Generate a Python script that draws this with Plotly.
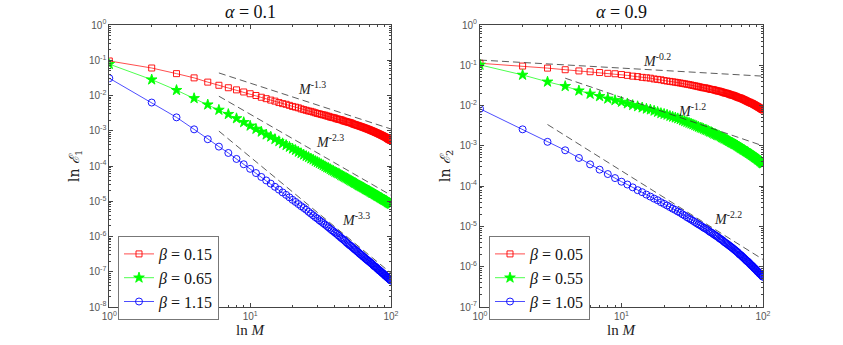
import numpy as np
import plotly.graph_objects as go

# M = 1..100
M = list(range(1, 101))

# log10 of the errors (alpha = 0.1)
a01_b015 = [-1.02, -1.22, -1.38, -1.50, -1.62, -1.71, -1.78, -1.84, -1.90, -1.95,
            -2.00, -2.05, -2.09, -2.13, -2.16, -2.20, -2.23, -2.25, -2.28, -2.31,
            -2.33, -2.35, -2.38, -2.40, -2.42, -2.44, -2.45, -2.47, -2.49, -2.51,
            -2.52, -2.54, -2.55, -2.56, -2.58, -2.59, -2.61, -2.62, -2.63, -2.64,
            -2.66, -2.67, -2.68, -2.69, -2.70, -2.72, -2.73, -2.74, -2.75, -2.76,
            -2.77, -2.78, -2.79, -2.81, -2.82, -2.83, -2.84, -2.85, -2.86, -2.87,
            -2.88, -2.89, -2.90, -2.91, -2.92, -2.93, -2.94, -2.95, -2.96, -2.97,
            -2.98, -2.99, -3.00, -3.01, -3.02, -3.03, -3.04, -3.05, -3.06, -3.07,
            -3.08, -3.09, -3.10, -3.11, -3.12, -3.13, -3.14, -3.15, -3.16, -3.17,
            -3.18, -3.19, -3.20, -3.22, -3.23, -3.24, -3.25, -3.26, -3.27, -3.28]
a01_b065 = [-1.11, -1.55, -1.85, -2.08, -2.26, -2.41, -2.53, -2.65, -2.76, -2.86,
            -2.95, -3.03, -3.11, -3.17, -3.24, -3.30, -3.36, -3.41, -3.46, -3.51,
            -3.55, -3.60, -3.64, -3.68, -3.72, -3.75, -3.79, -3.82, -3.86, -3.89,
            -3.92, -3.95, -3.98, -4.01, -4.04, -4.06, -4.09, -4.12, -4.14, -4.17,
            -4.19, -4.21, -4.23, -4.26, -4.28, -4.30, -4.32, -4.34, -4.36, -4.38,
            -4.40, -4.42, -4.44, -4.46, -4.48, -4.49, -4.51, -4.53, -4.55, -4.56,
            -4.58, -4.59, -4.61, -4.62, -4.64, -4.66, -4.67, -4.69, -4.70, -4.71,
            -4.73, -4.74, -4.76, -4.77, -4.78, -4.80, -4.81, -4.82, -4.84, -4.85,
            -4.86, -4.87, -4.89, -4.90, -4.91, -4.92, -4.94, -4.95, -4.96, -4.97,
            -4.98, -4.99, -5.00, -5.02, -5.03, -5.04, -5.05, -5.06, -5.07, -5.08]
a01_b115 = [-1.51, -2.20, -2.62, -2.96, -3.24, -3.45, -3.63, -3.80, -3.95, -4.08,
            -4.20, -4.31, -4.41, -4.50, -4.59, -4.67, -4.75, -4.82, -4.89, -4.96,
            -5.02, -5.08, -5.14, -5.19, -5.24, -5.30, -5.35, -5.40, -5.45, -5.49,
            -5.54, -5.58, -5.62, -5.66, -5.70, -5.74, -5.78, -5.82, -5.85, -5.89,
            -5.92, -5.96, -5.99, -6.03, -6.06, -6.09, -6.12, -6.16, -6.19, -6.22,
            -6.25, -6.27, -6.30, -6.33, -6.36, -6.38, -6.41, -6.43, -6.46, -6.49,
            -6.51, -6.53, -6.56, -6.58, -6.60, -6.63, -6.65, -6.67, -6.69, -6.71,
            -6.73, -6.75, -6.77, -6.79, -6.82, -6.84, -6.85, -6.87, -6.89, -6.91,
            -6.93, -6.95, -6.97, -6.98, -7.00, -7.02, -7.04, -7.05, -7.07, -7.09,
            -7.11, -7.12, -7.14, -7.16, -7.17, -7.19, -7.20, -7.22, -7.24, -7.25]

# alpha = 0.9
a09_b005 = [-0.95, -1.02, -1.07, -1.11, -1.14, -1.16, -1.18, -1.20, -1.21, -1.23,
            -1.25, -1.27, -1.28, -1.30, -1.31, -1.32, -1.34, -1.35, -1.36, -1.38,
            -1.39, -1.40, -1.41, -1.42, -1.43, -1.44, -1.45, -1.46, -1.47, -1.48,
            -1.49, -1.50, -1.51, -1.52, -1.53, -1.54, -1.55, -1.56, -1.56, -1.57,
            -1.58, -1.59, -1.60, -1.60, -1.61, -1.62, -1.63, -1.64, -1.64, -1.65,
            -1.66, -1.67, -1.68, -1.69, -1.69, -1.70, -1.71, -1.72, -1.73, -1.74,
            -1.74, -1.75, -1.76, -1.77, -1.78, -1.79, -1.80, -1.81, -1.81, -1.82,
            -1.83, -1.84, -1.85, -1.86, -1.87, -1.88, -1.89, -1.90, -1.91, -1.92,
            -1.92, -1.94, -1.94, -1.95, -1.96, -1.97, -1.98, -1.99, -2.00, -2.01,
            -2.02, -2.03, -2.04, -2.05, -2.06, -2.07, -2.08, -2.09, -2.10, -2.11]
a09_b055 = [-0.99, -1.24, -1.41, -1.52, -1.63, -1.71, -1.77, -1.83, -1.87, -1.91,
            -1.95, -1.99, -2.02, -2.05, -2.08, -2.10, -2.13, -2.16, -2.19, -2.21,
            -2.23, -2.26, -2.28, -2.30, -2.32, -2.34, -2.37, -2.39, -2.41, -2.43,
            -2.45, -2.47, -2.49, -2.51, -2.53, -2.55, -2.56, -2.58, -2.60, -2.61,
            -2.63, -2.65, -2.66, -2.68, -2.70, -2.71, -2.73, -2.74, -2.75, -2.77,
            -2.79, -2.80, -2.82, -2.83, -2.85, -2.86, -2.88, -2.89, -2.91, -2.92,
            -2.93, -2.95, -2.96, -2.97, -2.99, -3.00, -3.02, -3.03, -3.05, -3.06,
            -3.07, -3.09, -3.10, -3.11, -3.13, -3.14, -3.15, -3.16, -3.18, -3.19,
            -3.20, -3.21, -3.23, -3.24, -3.25, -3.26, -3.28, -3.29, -3.30, -3.31,
            -3.33, -3.34, -3.35, -3.36, -3.38, -3.39, -3.40, -3.42, -3.43, -3.44]
a09_b105 = [-2.08, -2.59, -2.90, -3.11, -3.30, -3.46, -3.59, -3.70, -3.80, -3.89,
            -3.96, -4.03, -4.10, -4.15, -4.21, -4.26, -4.31, -4.35, -4.40, -4.44,
            -4.48, -4.52, -4.56, -4.59, -4.63, -4.66, -4.70, -4.73, -4.77, -4.80,
            -4.83, -4.86, -4.89, -4.92, -4.95, -4.97, -5.00, -5.03, -5.05, -5.07,
            -5.10, -5.13, -5.15, -5.17, -5.20, -5.22, -5.24, -5.26, -5.29, -5.31,
            -5.33, -5.35, -5.38, -5.40, -5.42, -5.44, -5.46, -5.48, -5.50, -5.52,
            -5.54, -5.56, -5.58, -5.60, -5.62, -5.64, -5.66, -5.69, -5.70, -5.72,
            -5.74, -5.76, -5.78, -5.80, -5.82, -5.84, -5.86, -5.87, -5.89, -5.91,
            -5.93, -5.95, -5.97, -5.98, -6.00, -6.02, -6.04, -6.05, -6.07, -6.09,
            -6.11, -6.12, -6.14, -6.16, -6.17, -6.19, -6.20, -6.22, -6.24, -6.25]

# dashed reference slopes: (M start, M end), (log10 start, log10 end), label, label pos
ref_left = [([6, 100], [-1.36, -2.95], "-1.3", 1.44, -1.78),
            ([6, 100], [-2.02, -4.83], "-2.3", 1.57, -3.28),
            ([6, 100], [-3.01, -7.04], "-3.3", 1.75, -5.51)]
ref_right = [([1, 100], [-0.87, -1.27], "-0.2", 1.25, -0.87),
             ([4, 100], [-1.32, -3.00], "-1.2", 1.50, -2.11),
             ([3, 100], [-2.47, -5.82], "-2.2", 1.75, -4.79)]

left_names = ["0.15", "0.65", "1.15"]
right_names = ["0.05", "0.55", "1.05"]

colors = ["#ff0000", "#00ff00", "#0000ff"]
symbols = ["square-open", "star", "circle-open"]
sizes = [6, 8, 7]
SERIF = "Liberation Serif, DejaVu Serif, serif"

# body margin is removed after plotting, so figure pixels = window pixels
W, H = 843, 345
def px(x):
    return x / W
def py(y):
    return 1 - y / H

fig = go.Figure()

def add_panel(series, names, refs, xa, ya, leg):
    for s, n, c, sym, sz in zip(series, names, colors, symbols, sizes):
        fig.add_trace(go.Scatter(
            x=M, y=[10 ** v for v in s], mode="lines+markers",
            name=f"<i>β</i> = {n}", legend=leg,
            line=dict(color=c, width=0.7),
            marker=dict(symbol=sym, size=sz, color=c, line=dict(color=c, width=0.9)),
            xaxis=xa, yaxis=ya))
    for mx, ly, p, tx, ty in refs:
        fig.add_trace(go.Scatter(
            x=mx, y=[10 ** v for v in ly], mode="lines", showlegend=False,
            line=dict(color="#333333", width=0.8, dash="7px,4px"),
            xaxis=xa, yaxis=ya))
        fig.add_annotation(x=tx, y=ty, xref=xa, yref=ya, showarrow=False,
                           xanchor="center", yanchor="middle",
                           text=f"<i>M</i><sup>{p}</sup>",
                           font=dict(family=SERIF, size=14, color="#222"))

add_panel([a01_b015, a01_b065, a01_b115], left_names, ref_left, "x", "y", "legend")
add_panel([a09_b005, a09_b055, a09_b105], right_names, ref_right, "x2", "y2", "legend2")

def log_axis(lo, hi, domain, anchor):
    vals = [10.0 ** k for k in range(lo, hi + 1)]
    txt = [f"10<sup>{k}</sup>" for k in range(lo, hi + 1)]
    minor = [d * 10.0 ** k for k in range(lo, hi) for d in range(2, 10)]
    return dict(type="log", range=[lo, hi], domain=domain, anchor=anchor,
                tickmode="array", tickvals=vals, ticktext=txt,
                ticks="inside", ticklen=4, tickcolor="#444",
                minor=dict(tickmode="array", tickvals=minor, ticks="inside",
                           ticklen=2, tickcolor="#444", showgrid=False),
                showline=True, linecolor="#444", linewidth=1, mirror="allticks",
                showgrid=False, zeroline=False,
                tickfont=dict(family="Liberation Sans, Arial", size=10, color="#555"))

ydom = [py(307), py(25)]
legend_style = dict(xanchor="left", yanchor="top",
                    bordercolor="#777", borderwidth=1, bgcolor="white",
                    font=dict(family=SERIF, size=16, color="#111"),
                    tracegroupgap=0, itemwidth=30)
fig.update_layout(
    width=W, height=H, autosize=False,
    margin=dict(l=0, r=0, t=0, b=0, autoexpand=False),
    paper_bgcolor="white", plot_bgcolor="white",
    xaxis=log_axis(0, 2, [px(109.3), px(391)], "y"),
    yaxis=log_axis(-8, 0, ydom, "x"),
    xaxis2=log_axis(0, 2, [px(480), px(763)], "y2"),
    yaxis2=log_axis(-7, 0, ydom, "x2"),
    legend=dict(x=px(118), y=py(236), **legend_style),
    legend2=dict(x=px(489), y=py(236), **legend_style),
)

def note(x, y, text, font, angle=0):
    fig.add_annotation(x=px(x), y=py(y), xref="paper", yref="paper",
                       xanchor="center", yanchor="middle", showarrow=False,
                       textangle=angle, text=text, font=font)

title_font = dict(family=SERIF, size=18, color="#111")
note(250, 12, "<i>α</i> = 0.1", title_font)
note(621.5, 12, "<i>α</i> = 0.9", title_font)
lab_font = dict(family=SERIF, size=15, color="#222")
note(250, 330, "ln <i>M</i>", lab_font)
note(621.5, 330, "ln <i>M</i>", lab_font)
ylab_font = dict(family="DejaVu Serif, serif", size=14, color="#222")
note(75, 166, "ln <i>ℰ</i><sub>1</sub>", ylab_font, -90)
note(446, 166, "ln <i>ℰ</i><sub>2</sub>", ylab_font, -90)

fig.write_html("out.html", config={"displayModeBar": False},
               post_script="document.body.style.margin = '0';")
